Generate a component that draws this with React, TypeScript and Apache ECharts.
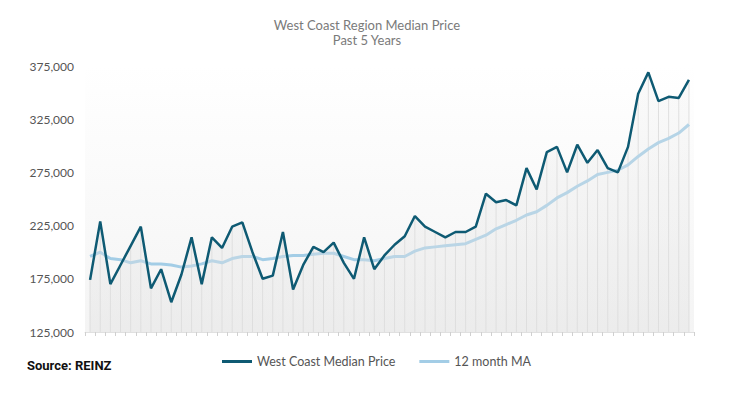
import React, { useEffect, useRef } from "react";
import * as echarts from "echarts";

const months = Array.from({ length: 60 }, (_, i) => String(i + 1));

const medianPrice = [
  174000, 229000, 170000, 188000, 206000, 224000, 166000, 184000, 153000, 179000,
  214000, 170000, 214000, 204000, 224000, 228000, 200000, 175000, 178000, 219000,
  165000, 188000, 205000, 200000, 209000, 190000, 175000, 214000, 184000, 197000,
  207000, 215000, 234000, 224000, 219000, 214000, 219000, 219000, 224000, 255000,
  247000, 249000, 244000, 279000, 259000, 294000, 299000, 275000, 301000, 284000,
  296000, 279000, 275000, 299000, 349000, 369000, 342000, 346000, 345000, 362000,
];

const movingAvg = [
  196000, 200000, 194000, 193000, 190000, 192000, 189000, 189000, 188000, 186000,
  187000, 189000, 192000, 190000, 194000, 196000, 196000, 193000, 194000, 196000,
  197000, 197000, 198000, 199000, 199000, 196000, 193000, 193000, 192000, 194000,
  196000, 196000, 201000, 204000, 205000, 206000, 207000, 208000, 212000, 216000,
  222000, 226000, 230000, 235000, 238000, 244000, 251000, 256000, 262000, 267000,
  273000, 275000, 277000, 282000, 290000, 297000, 303000, 307000, 312000, 320000,
];

const seriesNames = ["West Coast Median Price", "12 month MA"];
const titleText = "West Coast Region Median Price";
const subTitleText = "Past 5 Years";
const sourceText = "Source: REINZ";

export default function App() {
  const ref = useRef<HTMLDivElement>(null);
  useEffect(() => {
    if (!ref.current) return;
    const chart = echarts.init(ref.current, undefined, { renderer: "svg" });
    const font = "Lato";
    chart.setOption({
      animation: false,
      backgroundColor: "#ffffff",
      title: {
        text: titleText,
        subtext: subTitleText,
        left: "center",
        top: 13,
        itemGap: 1,
        textStyle: { fontFamily: font, fontSize: 13, fontWeight: "normal", color: "#7a7a7a", lineHeight: 14 },
        subtextStyle: { fontFamily: font, fontSize: 13, color: "#7a7a7a", lineHeight: 14 },
      },
      legend: {
        data: seriesNames,
        left: 217,
        top: 350,
        icon: "rect",
        itemWidth: 30,
        itemHeight: 3,
        itemGap: 24,
        textStyle: { fontFamily: font, fontSize: 12.5, color: "#555" },
      },
      graphic: [
        {
          type: "text",
          left: 27,
          top: 359,
          style: {
            text: sourceText,
            fontFamily: "Roboto",
            fontWeight: "bold",
            fontSize: 13,
            fill: "#111",
          },
        },
      ],
      grid: {
        left: 85,
        right: 40,
        top: 66,
        bottom: 66,
        show: true,
        borderWidth: 0,
        backgroundColor: new echarts.graphic.LinearGradient(0, 0, 0, 1, [
          { offset: 0, color: "#ffffff" },
          { offset: 1, color: "#f4f4f4" },
        ]),
      },
      xAxis: {
        type: "category",
        data: months,
        boundaryGap: true,
        axisLine: { show: true, lineStyle: { color: "#e0e0e0" } },
        axisTick: { show: true, interval: 0, length: 4, lineStyle: { color: "#d0d0d0" } },
        axisLabel: { show: false },
        splitLine: { show: false },
      },
      yAxis: {
        type: "value",
        min: 125000,
        max: 375000,
        interval: 50000,
        axisLine: { show: false },
        axisTick: { show: false },
        splitLine: { show: false },
        axisLabel: {
          margin: 11,
          fontFamily: font,
          fontSize: 12,
          color: "#555",
          formatter: (v: number) => v.toLocaleString("en-US"),
        },
      },
      series: [
        {
          type: "bar",
          data: medianPrice,
          barWidth: 1,
          silent: true,
          itemStyle: { color: "#dcdcdc" },
          z: 1,
        },
        {
          name: seriesNames[0],
          type: "line",
          data: medianPrice,
          symbol: "none",
          lineStyle: { color: "#0e5a73", width: 2.5 },
          itemStyle: { color: "#0e5a73" },
          areaStyle: {
            origin: "start",
            color: new echarts.graphic.LinearGradient(0, 0, 0, 1, [
              { offset: 0, color: "rgba(235,235,235,0.3)" },
              { offset: 1, color: "rgba(225,225,225,0.6)" },
            ]),
          },
          z: 3,
        },
        {
          name: seriesNames[1],
          type: "line",
          data: movingAvg,
          symbol: "none",
          lineStyle: { color: "#a3cde6", width: 3 },
          itemStyle: { color: "#a3cde6" },
          z: 2,
        },
      ],
    });
    return () => chart.dispose();
  }, []);
  return <div ref={ref} style={{ width: 734, height: 398, position: "absolute", left: 0, top: 0 }} />;
}
